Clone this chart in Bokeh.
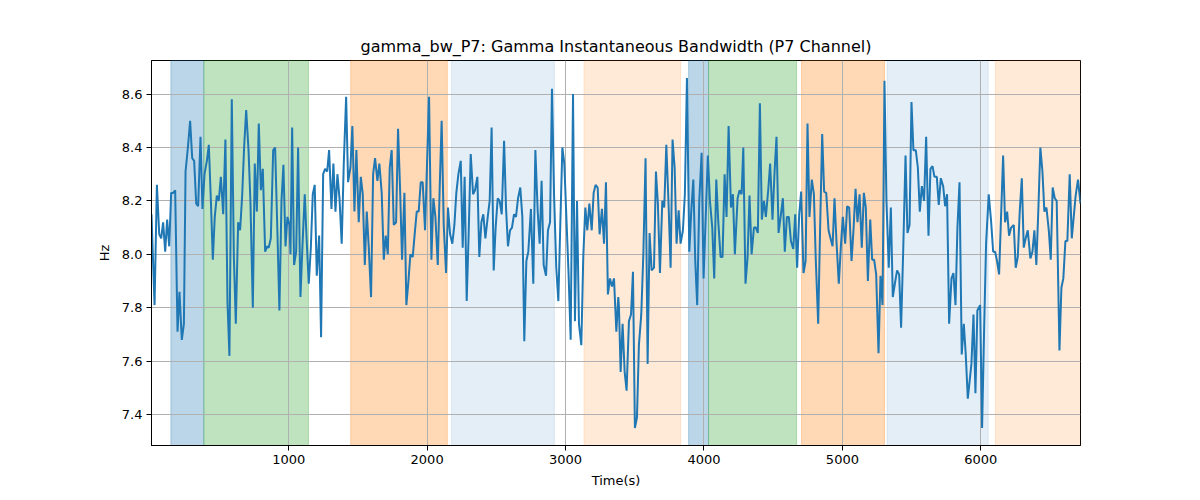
from bokeh.plotting import figure
from bokeh.models import Range1d, FixedTicker, BoxAnnotation, PrintfTickFormatter
from bokeh.embed import file_html
from bokeh.resources import INLINE

# ---- data ----
times = [
    9, 31, 48, 65, 79, 93, 108, 122, 137, 151, 166, 180, 197, 211, 228, 243, 255, 272, 288, 303,
    317, 332, 346, 363, 377, 392, 409, 423, 438, 452, 466, 481, 495, 510, 527, 543, 558, 572, 589, 604,
    618, 635, 649, 664, 678, 693, 710, 724, 741, 755, 770, 784, 799, 813, 830, 844,
    856, 871, 888, 902, 919, 933, 948, 962, 977, 991, 1006, 1013, 1025, 1039, 1054, 1068, 1085, 1099, 1116, 1131,
    1145, 1160, 1174, 1188, 1203, 1220, 1234, 1249, 1263, 1278, 1292, 1309, 1323, 1338, 1352, 1367, 1383, 1398, 1415, 1429,
    1446, 1460, 1475, 1489, 1506, 1521, 1535, 1550, 1564, 1578, 1595, 1610, 1624, 1641, 1655, 1672, 1687,
    1701, 1716, 1730, 1744, 1759, 1776, 1790, 1805, 1819, 1836, 1850, 1865, 1879, 1896, 1910, 1925, 1939, 1954, 1968, 1985,
    2000, 2014, 2031, 2045, 2060, 2077, 2091, 2105, 2120, 2137, 2151, 2166, 2182, 2197, 2211, 2226, 2243, 2257, 2271, 2286,
    2300, 2315, 2332, 2346, 2363, 2377, 2392, 2406, 2421, 2438, 2452, 2466, 2481, 2495, 2510, 2524, 2539,
    2556, 2570, 2584, 2599, 2613, 2628, 2642, 2657, 2673, 2688, 2702, 2717, 2731, 2750, 2767, 2782, 2799, 2813, 2827, 2842,
    2859, 2873, 2888, 2902, 2917, 2933, 2948, 2962, 2977, 2991, 3006, 3022, 3037, 3054, 3068, 3083, 3097, 3114, 3128, 3143,
    3157, 3172, 3189, 3203, 3217, 3232, 3246, 3263, 3278, 3292, 3306, 3321, 3335, 3350, 3367, 3381,
    3386, 3398, 3412, 3427, 3441, 3458, 3473, 3487, 3501, 3516, 3530, 3547, 3562, 3578, 3593, 3607, 3622, 3639, 3653, 3667,
    3682, 3699, 3713, 3728, 3744, 3759, 3773, 3788, 3802, 3817, 3831, 3848, 3862, 3877, 3894, 3908, 3923, 3937, 3951, 3966,
    3983, 3997, 4014, 4028, 4043, 4060, 4074, 4089, 4103, 4120, 4134, 4149, 4163, 4178, 4195, 4209, 4223,
    4243, 4257, 4272, 4284, 4300, 4315, 4329, 4344, 4361, 4375, 4389, 4404, 4418, 4433, 4447, 4464, 4478, 4495, 4510, 4524,
    4539, 4556, 4570, 4584, 4599, 4613, 4628, 4645, 4659, 4673, 4688, 4702, 4719, 4734, 4748, 4762, 4779, 4794, 4808, 4825,
    4839, 4854, 4868, 4883, 4900, 4914, 4929, 4943, 4957, 4974, 4989, 5003, 5020, 5034, 5049, 5066,
    5080, 5095, 5109, 5124, 5140, 5155, 5169, 5184, 5201, 5215, 5229, 5244, 5261, 5275, 5290, 5304, 5318, 5335, 5350, 5364,
    5379, 5395, 5410, 5424, 5439, 5456, 5470, 5485, 5499, 5513, 5530, 5545, 5559, 5574, 5590, 5605, 5622, 5636, 5651, 5665,
    5682, 5696, 5711, 5728, 5742, 5756, 5771, 5788, 5802, 5817, 5831, 5846, 5862, 5877, 5891, 5906,
    5932, 5947, 5961, 5975, 5995, 6009, 6024, 6038, 6057, 6074, 6089, 6103, 6117, 6132, 6146, 6161, 6175, 6190, 6204, 6219,
    6238, 6252, 6267, 6281, 6296, 6310, 6324, 6339, 6358, 6373, 6387, 6401, 6416, 6430, 6445, 6459, 6474, 6491, 6505, 6519,
    6534, 6548, 6568, 6582, 6596, 6611, 6625, 6642, 6657, 6671, 6685, 6702, 6720,
]

gamma_bw = [
    8.15, 7.81, 8.26, 8.075, 8.06, 8.12, 8.01, 8.13, 8.03, 8.23, 8.23, 8.24, 7.71, 7.86, 7.68, 7.74, 8.31, 8.40, 8.50, 8.36,
    8.35, 8.19, 8.18, 8.44, 8.17, 8.30, 8.35, 8.41, 8.20, 7.98, 8.14, 8.22, 8.20, 8.29, 8.15, 8.43, 7.82, 7.62, 8.58, 7.99,
    7.74, 8.12, 8.09, 8.22, 8.40, 8.54, 8.39, 8.19, 7.80, 8.34, 8.16, 8.49, 8.24, 8.32, 8.01, 8.03,
    8.025, 8.06, 8.39, 8.40, 8.075, 7.79, 8.20, 8.335, 8.03, 8.14, 8.11, 8.0, 8.475, 7.96, 8.01, 8.40, 7.84, 8.025, 8.225, 8.04,
    7.89, 8.025, 8.225, 8.26, 7.92, 8.07, 7.69, 8.30, 8.32, 8.31, 8.39, 8.17, 8.34, 8.16, 8.30, 8.21, 8.04, 8.34, 8.59, 8.27,
    8.325, 8.48, 8.16, 8.39, 8.12, 8.29, 8.225, 7.96, 8.16, 8.03, 7.84, 8.30, 8.36, 8.275, 8.34, 8.23, 7.98,
    8.07, 8.0, 8.325, 8.39, 8.11, 8.12, 8.47, 8.24, 7.98, 8.23, 7.81, 7.90, 8.0, 7.99, 8.075, 8.16, 8.16, 8.27, 8.27, 8.09,
    8.35, 8.59, 7.98, 8.21, 8.14, 7.96, 8.25, 8.50, 8.11, 7.93, 8.175, 8.075, 8.04, 8.11, 8.23, 8.30, 8.35, 8.025, 8.29, 7.825,
    8.075, 8.375, 8.225, 8.24, 8.29, 7.99, 8.12, 8.15, 8.06, 8.14, 8.20, 8.475, 7.94, 8.10, 8.21, 8.20, 8.15,
    8.425, 8.175, 8.03, 8.09, 8.10, 8.15, 8.14, 8.21, 8.25, 8.14, 7.675, 7.975, 8.01, 8.17, 7.89, 8.39, 8.16, 8.04, 8.275, 7.96,
    7.92, 8.09, 8.12, 8.62, 8.225, 7.95, 7.825, 8.11, 8.40, 8.34, 8.14, 7.925, 7.68, 8.60, 7.75, 8.20, 7.74, 7.66, 7.99, 8.175,
    8.09, 8.19, 8.09, 8.23, 8.26, 8.25, 8.075, 8.17, 8.04, 8.27, 7.85, 7.91, 7.88, 7.91, 7.71, 7.84,
    7.80, 7.56, 7.74, 7.56, 7.49, 7.75, 7.775, 7.935, 7.35, 7.39, 7.66, 7.775, 8.0, 8.36, 7.59, 8.08, 7.94, 7.95, 8.31, 8.19,
    7.93, 8.20, 8.175, 8.41, 8.19, 7.95, 8.43, 8.325, 8.04, 8.165, 8.04, 8.09, 8.225, 8.66, 8.01, 8.16, 8.28, 7.975, 7.81, 8.20,
    8.38, 7.91, 8.16, 8.37, 8.20, 8.10, 7.91, 8.28, 8.125, 7.99, 7.99, 8.30, 8.14, 8.48, 8.175, 8.225, 8.0,
    8.21, 8.24, 8.225, 8.40, 7.89, 7.99, 8.22, 8.0, 8.10, 8.10, 8.08, 8.565, 8.13, 8.20, 8.14, 8.24, 8.34, 8.13, 8.31, 8.44,
    8.08, 8.15, 8.21, 8.01, 8.14, 8.14, 8.05, 8.02, 8.15, 7.95, 8.15, 8.235, 7.93, 7.975, 8.49, 8.14, 8.28, 8.225, 7.975, 7.74,
    8.10, 8.45, 8.235, 8.23, 8.09, 8.06, 8.03, 8.21, 8.05, 7.89, 8.03, 8.14, 8.04, 8.18, 8.175, 7.975,
    8.09, 8.245, 8.12, 8.225, 8.025, 8.23, 8.175, 7.90, 8.13, 7.98, 7.98, 7.925, 7.63, 7.92, 7.81, 8.65, 8.20, 7.95, 8.175, 7.84,
    7.89, 7.94, 7.925, 7.725, 8.01, 8.37, 8.08, 8.11, 8.57, 8.39, 8.39, 8.325, 8.16, 8.255, 8.20, 8.44, 8.07, 8.32, 8.33, 8.29,
    8.29, 8.185, 8.285, 8.255, 8.18, 8.225, 7.74, 7.91, 7.93, 7.81, 8.10, 8.27, 7.625, 7.74, 7.625, 7.46,
    7.59, 7.775, 7.48, 7.79, 7.81, 7.35, 7.725, 8.04, 8.225, 8.125, 8.01, 8.01, 7.975, 7.925, 8.14, 8.37, 8.12, 8.16, 8.07, 8.10,
    8.11, 7.95, 7.99, 8.16, 8.285, 8.025, 8.06, 8.09, 7.985, 8.01, 8.09, 7.96, 8.175, 8.40, 8.31, 8.16, 8.175, 8.09, 7.98, 8.25,
    8.21, 8.20, 7.64, 7.875, 7.91, 8.05, 8.05, 8.30, 8.06, 8.14, 8.22, 8.28, 8.19,
]

band_start = [149, 387, 1448, 2177, 3133, 3889, 4033, 4705, 5323, 6105]
band_end = [387, 1143, 2146, 2919, 3831, 4033, 4669, 5304, 6053, 6760]
band_color = ["#1f77b4", "#2ca02c", "#ff7f0e", "#1f77b4", "#ff7f0e",
              "#1f77b4", "#2ca02c", "#ff7f0e", "#1f77b4", "#ff7f0e"]
band_alpha = [0.3, 0.3, 0.3, 0.12, 0.16, 0.3, 0.3, 0.3, 0.12, 0.16]

y_ticks = [7.4, 7.6, 7.8, 8.0, 8.2, 8.4, 8.6]
x_ticks = [1000, 2000, 3000, 4000, 5000, 6000]

title_text = "gamma_bw_P7: Gamma Instantaneous Bandwidth (P7 Channel)"

# ---- figure ----
vmin, vmax = min(gamma_bw), max(gamma_bw)
pad = (vmax - vmin) * 0.05

p = figure(width=1192, height=492, output_backend="svg", toolbar_location=None,
           x_range=Range1d(times[0], times[-1]),
           y_range=Range1d(vmin - pad, vmax + pad),
           min_border_left=151, min_border_right=112,
           min_border_top=60, min_border_bottom=47,
           title=title_text)

FONT = "DejaVu Sans"
p.title.text_font = FONT
p.title.text_font_size = "16px"
p.title.text_font_style = "normal"
p.title.align = "center"
p.title.text_color = "black"

for s, e, c, a in zip(band_start, band_end, band_color, band_alpha):
    p.add_layout(BoxAnnotation(left=s, right=e, fill_color=c, fill_alpha=a,
                               line_color=c, line_alpha=a, line_width=1,
                               level="image"))

p.line(times, gamma_bw, line_color="#1f77b4", line_width=2)

p.xaxis.ticker = FixedTicker(ticks=x_ticks)
p.yaxis.ticker = FixedTicker(ticks=y_ticks)
p.yaxis.formatter = PrintfTickFormatter(format="%.1f")
p.xaxis.axis_label = "Time(s)"
p.yaxis.axis_label = "Hz"

for ax in (p.xaxis, p.yaxis):
    ax.axis_label_text_font = FONT
    ax.axis_label_text_font_size = "13px"
    ax.axis_label_text_font_style = "normal"
    ax.axis_label_text_color = "black"
    ax.major_label_text_font = FONT
    ax.major_label_text_font_size = "13px"
    ax.major_label_text_color = "black"
    ax.axis_line_color = "black"
    ax.major_tick_line_color = "black"
    ax.major_tick_out = 5
    ax.major_tick_in = 0
    ax.minor_tick_line_color = None
p.xaxis.axis_label_standoff = 6
p.yaxis.axis_label_standoff = 7
p.xaxis.major_label_standoff = 4
p.yaxis.major_label_standoff = 4

for g in (p.xgrid, p.ygrid):
    g.grid_line_color = "#b0b0b0"
    g.grid_line_width = 1
    g.grid_line_alpha = 1.0
p.xgrid.ticker = FixedTicker(ticks=x_ticks)
p.ygrid.ticker = FixedTicker(ticks=y_ticks)

p.outline_line_color = "black"
p.outline_line_alpha = 1.0
p.background_fill_color = "white"
p.border_fill_color = "white"

open("out.html", "w").write(file_html(p, INLINE))
